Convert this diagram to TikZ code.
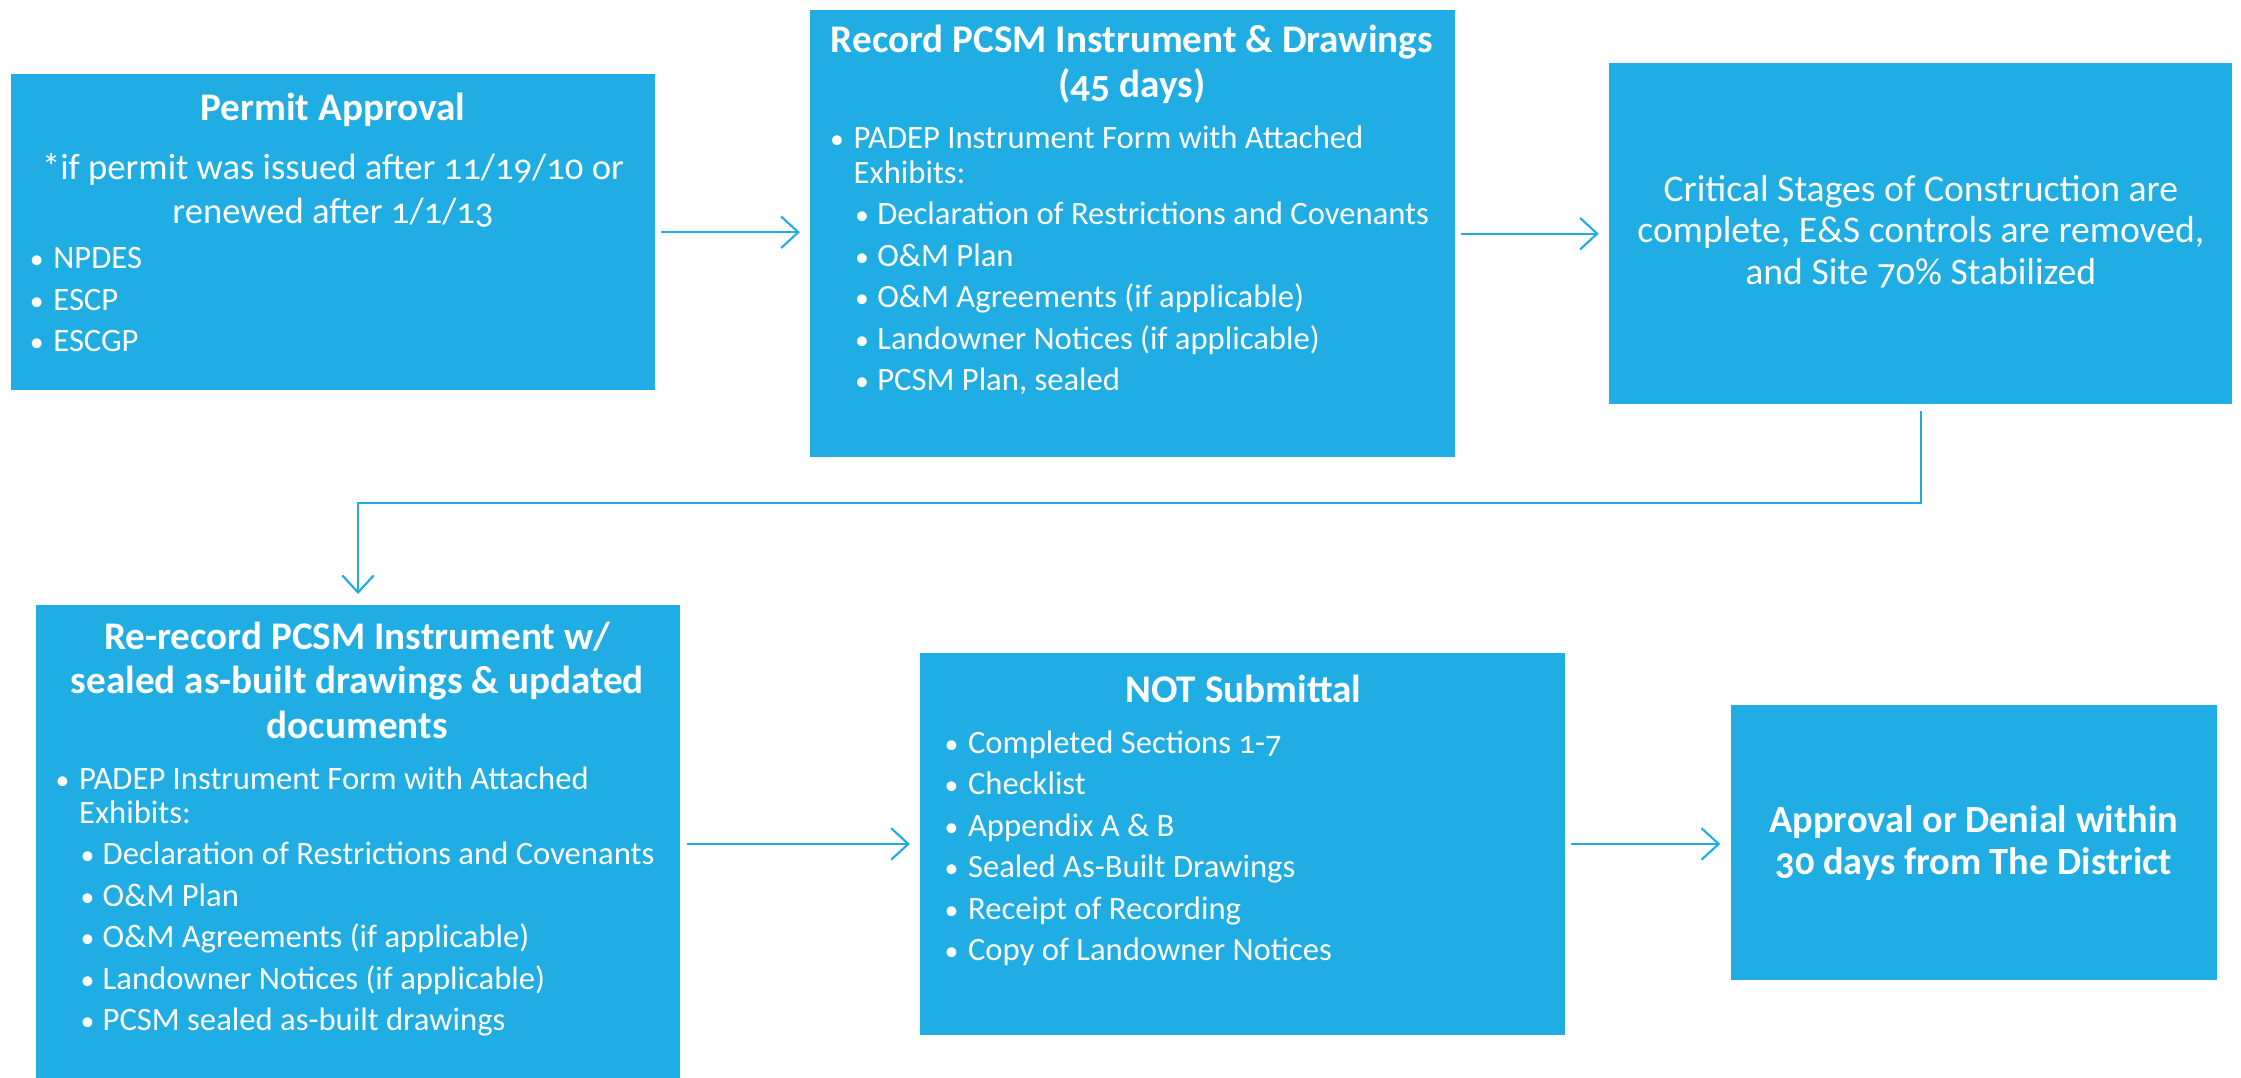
\documentclass[tikz,border=0pt]{standalone}
\usepackage{fontspec}
\setmainfont{Carlito}[Numbers=OldStyle]
\usetikzlibrary{arrows.meta,fit}
\definecolor{stageblue}{RGB}{31,173,228}
\newcommand{\bulA}{\makebox[0.26cm][l]{\hspace*{-0.07cm}\scalebox{0.85}{\textbullet}}}
\newcommand{\bulB}{\hspace*{0.35cm}\makebox[0.24cm][l]{\hspace*{-0.07cm}\scalebox{0.85}{\textbullet}}}
\newcommand{\gapA}{\\[2.85pt]}

\begin{document}
\begin{tikzpicture}
        [x=0.02cm,y=-0.02cm]
        \tikzset{stage/.style={rectangle, fill=stageblue, inner sep=0pt},
        title/.style={text=white, inner sep=0pt, align=center,
          font=\bfseries\fontsize{15.6}{17.6}\selectfont},
        plain/.style={text=white, inner sep=0pt, align=center,
          font=\fontsize{14.6}{17.4}\selectfont},
        items/.style={text=white, inner sep=0pt, align=left, anchor=north west,
          font=\fontsize{13}{13.66}\selectfont},
        link/.style={draw=stageblue, line width=0.85pt,
          -{Straight Barb[length=0.24cm,width=0.44cm]},
          shorten <=0.08cm, shorten >=0.14cm}}
        \useasboundingbox (0,0) rectangle (1568,754);
        %-----boxes
         \node[stage, fit={(8,52) (458,273)}]     (permit)   {};
         \node[stage, fit={(567,7) (1018,320)}]   (record)   {};
         \node[stage, fit={(1126,44) (1562,283)}] (critical) {};
         \node[stage, fit={(25,423) (476,770)}]   (rerecord) {};
         \node[stage, fit={(644,457) (1095,724)}] (notsub)   {};
         \node[stage, fit={(1211,493) (1551,686)}] (decision) {};
         \coordinate (elbow) at (0,352);

        %-----texts
         \node[title] (permitT) at (233,77) {Permit Approval};
         \node[plain] (permitS) at (233,133) {*if permit was issued after 11/19/10 or\\renewed after 1/1/13};
         \node[items] (permitL) at (24,173) {\bulA NPDES\gapA \bulA ESCP\gapA \bulA ESCGP};

         \node[title] (recordT) at (792,45) {Record PCSM Instrument \& Drawings\\(45 days)};
         \node[items] (recordL) at (584,88) {\bulA PADEP Instrument Form with Attached\\
           \hspace*{0.26cm}Exhibits:\gapA
           \bulB Declaration of Restrictions and Covenants\gapA
           \bulB O\&M Plan\gapA
           \bulB O\&M Agreements (if applicable)\gapA
           \bulB Landowner Notices (if applicable)\gapA
           \bulB PCSM Plan, sealed};

         \node[plain, font=\fontsize{15}{16.5}\selectfont] (criticalT) at (1344,162)
           {Critical Stages of Construction are\\complete, E\&S controls are removed,\\and Site 70\% Stabilized};

         \node[title] (rerecordT) at (250,476) {Re-record PCSM Instrument w/\\sealed as-built drawings \& updated\\documents};
         \node[items] (rerecordL) at (42,536) {\bulA PADEP Instrument Form with Attached\\
           \hspace*{0.26cm}Exhibits:\gapA
           \bulB Declaration of Restrictions and Covenants\gapA
           \bulB O\&M Plan\gapA
           \bulB O\&M Agreements (if applicable)\gapA
           \bulB Landowner Notices (if applicable)\gapA
           \bulB PCSM sealed as-built drawings};

         \node[title] (notsubT) at (870,482) {NOT Submittal};
         \node[items] (notsubL) at (664,511) {\bulA Completed Sections 1-7\gapA
           \bulA Checklist\gapA
           \bulA Appendix A \& B\gapA
           \bulA Sealed As-Built Drawings\gapA
           \bulA Receipt of Recording\gapA
           \bulA Copy of Landowner Notices};

         \node[title, font=\bfseries\fontsize{15.3}{16.5}\selectfont] (decisionT) at (1381,590)
           {Approval or Denial within\\30 days from The District};

        %-----links
         \draw[link] (permit.east) -- (permit.east -| record.west);
         \draw[link] (record.east) -- (record.east -| critical.west);
         \draw[link] (critical.south) -- (critical.south |- elbow) -- (rerecord.north |- elbow) -- (rerecord.north);
         \draw[link] (rerecord.east |- notsub.west) -- (notsub.west);
         \draw[link] (notsub.east) -- (notsub.east -| decision.west);
\end{tikzpicture}
\end{document}
